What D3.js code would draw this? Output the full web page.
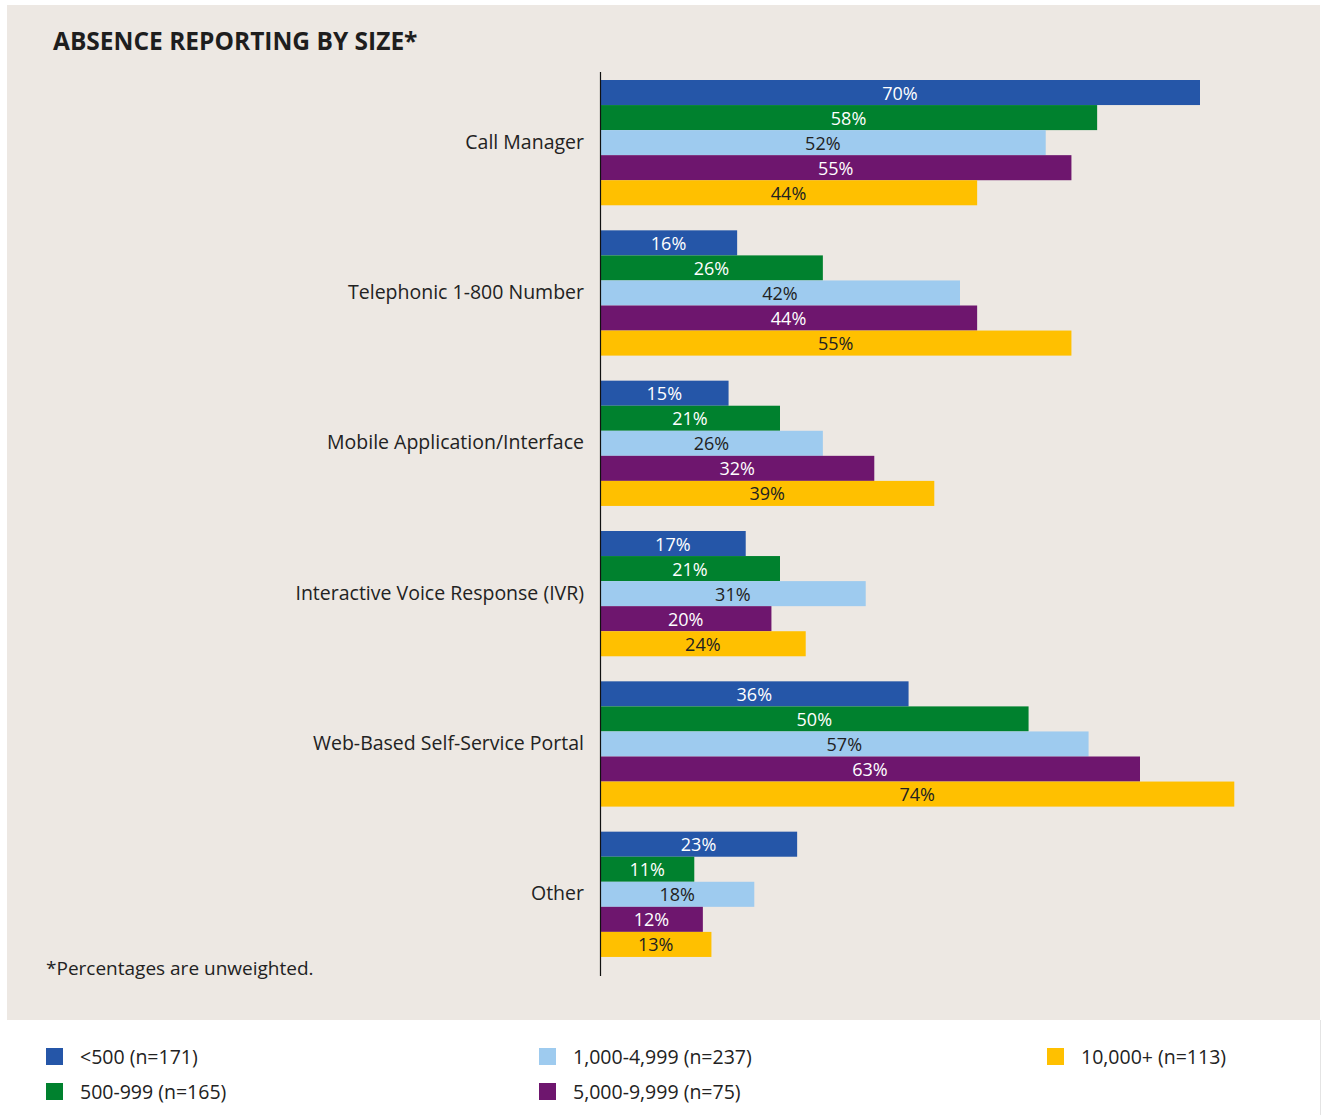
<!DOCTYPE html>
<html>
<head>
<meta charset="utf-8">
<script src="https://cdn.jsdelivr.net/npm/d3@7"></script>
<style>
  body { margin: 0; background: #fff; }
  text { font-family: "Open Sans", "Noto Sans", sans-serif; }
</style>
</head>
<body>
<div class="canvas"></div>
<script>
// data
const categories = ['Call Manager', 'Telephonic 1-800 Number', 'Mobile Application/Interface',
  'Interactive Voice Response (IVR)', 'Web-Based Self-Service Portal', 'Other'];
const seriesNames = ['<500 (n=171)', '500-999 (n=165)', '1,000-4,999 (n=237)', '5,000-9,999 (n=75)', '10,000+ (n=113)'];
const under500 = [70, 16, 15, 17, 36, 23];
const s500to999 = [58, 26, 21, 21, 50, 11];
const s1000to4999 = [52, 42, 26, 31, 57, 18];
const s5000to9999 = [55, 44, 32, 20, 63, 12];
const s10000plus = [44, 55, 39, 24, 74, 13];
const seriesValues = [under500, s500to999, s1000to4999, s5000to9999, s10000plus];

const colors = ['#2556a8', '#00812e', '#9ecbef', '#6e166e', '#ffc000'];
const textColors = ['#fff', '#fff', '#222', '#fff', '#222'];

const W = 1321, H = 1115;
const svg = d3.select('.canvas').append('svg')
  .attr('width', W).attr('height', H);

// panel background
svg.append('rect').attr('x', 7).attr('y', 5).attr('width', 1313).attr('height', 1015).attr('fill', '#ede8e3');
svg.append('line').attr('x1', 1320.5).attr('x2', 1320.5).attr('y1', 1020).attr('y2', H).attr('stroke', '#e4e4e4');

// title
svg.append('text').attr('x', 53).attr('y', 50)
  .style('font-size', '24.5px').style('font-weight', 700).attr('fill', '#1e1e1e')
  .text('ABSENCE REPORTING BY SIZE*');

// scales
const x = d3.scaleLinear().domain([0, 70]).range([600, 1200]);
const y0 = d3.scaleBand().domain(categories).range([80, 982]).paddingInner(0).paddingOuter(0);
const y1 = d3.scaleBand().domain(d3.range(6)).range([0, y0.bandwidth()]).padding(0);

const groups = svg.selectAll('g.group')
  .data(categories)
  .enter().append('g')
  .attr('class', 'group')
  .attr('transform', d => `translate(0,${y0(d)})`);

groups.selectAll('rect')
  .data((d, i) => seriesValues.map((s, k) => ({ k, v: s[i] })))
  .enter().append('rect')
  .attr('x', x(0))
  .attr('y', d => y1(d.k))
  .attr('width', d => x(d.v) - x(0))
  .attr('height', y1.bandwidth())
  .attr('fill', d => colors[d.k]);

groups.selectAll('text.val')
  .data((d, i) => seriesValues.map((s, k) => ({ k, v: s[i] })))
  .enter().append('text')
  .attr('class', 'val')
  .attr('x', d => (x(0) + x(d.v)) / 2)
  .attr('y', d => y1(d.k) + y1.bandwidth() / 2 + 7)
  .attr('text-anchor', 'middle')
  .style('font-size', '18px')
  .attr('fill', d => textColors[d.k])
  .text(d => d.v + '%');

// category labels
groups.append('text')
  .attr('x', 584)
  .attr('y', y1(2) + y1.bandwidth() / 2 + 6)
  .attr('text-anchor', 'end')
  .style('font-size', '19.5px')
  .attr('fill', '#222')
  .text(d => d);

// axis line
svg.append('line').attr('x1', 600.5).attr('x2', 600.5).attr('y1', 72).attr('y2', 976)
  .attr('stroke', '#111').attr('stroke-width', 1.2);

// footnote
svg.append('text').attr('x', 46).attr('y', 975)
  .style('font-size', '19px').attr('fill', '#222')
  .text('*Percentages are unweighted.');

// legend
const legendPos = [[46, 1048], [46, 1083], [539, 1048], [539, 1083], [1047, 1048]];
const legend = svg.selectAll('g.legend')
  .data(seriesNames)
  .enter().append('g')
  .attr('class', 'legend')
  .attr('transform', (d, i) => `translate(${legendPos[i][0]},${legendPos[i][1]})`);

legend.append('rect').attr('width', 17).attr('height', 17).attr('fill', (d, i) => colors[i]);
legend.append('text').attr('x', 34).attr('y', 15.5)
  .style('font-size', '19.5px').attr('fill', '#222')
  .text(d => d);
</script>
</body>
</html>
